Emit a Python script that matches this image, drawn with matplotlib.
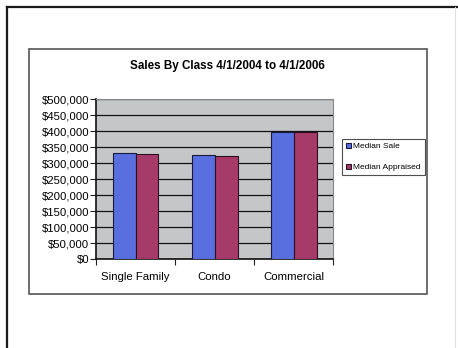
import numpy as np
import matplotlib.pyplot as plt
from matplotlib.patches import Rectangle
from matplotlib.lines import Line2D
from matplotlib.ticker import FuncFormatter, MultipleLocator

plt.rcParams['font.family'] = ['Liberation Sans', 'DejaVu Sans']

# median values by property class
categories = ['Single Family', 'Condo', 'Commercial']
median_sale = [331000, 327000, 397000]
median_appraised = [328000, 323000, 397000]
series_names = ['Median Sale', 'Median Appraised']

W, H = 458, 348
fig = plt.figure(figsize=(W / 100, H / 100), dpi=100)
fig.patch.set_facecolor('white')

def px(x0, y0, x1, y1):
    # pixel box (top-left origin) -> figure fraction rect
    return [x0 / W, 1 - y1 / H, (x1 - x0) / W, (y1 - y0) / H]

# page border and chart area frame
fig.add_artist(Line2D([7 / W, 7 / W], [0, 1 - 7 / H], color='#1a1a1a', lw=1.6,
                      transform=fig.transFigure))
fig.add_artist(Line2D([7 / W, 1], [1 - 7 / H, 1 - 7 / H], color='#1a1a1a', lw=1.6,
                      transform=fig.transFigure))
fig.add_artist(Line2D([455 / W, 455 / W], [0, 1 - 7 / H], color='#e2e2e2', lw=0.8,
                      transform=fig.transFigure))
fig.add_artist(Rectangle((29 / W, 1 - 294 / H), (427 - 29) / W, (294 - 49) / H,
                         transform=fig.transFigure, fill=False,
                         edgecolor='#555555', lw=1.2))

ax = fig.add_axes(px(96, 99.3, 333.3, 259.3))
ax.set_facecolor('#c4c6c8')

x = np.arange(len(categories))
w = 0.29
ax.bar(x - w / 2, median_sale, w, color='#5a6fdf', edgecolor='#1a1a40',
       lw=0.8, label=series_names[0], zorder=3)
ax.bar(x + w / 2, median_appraised, w, color='#a63a69', edgecolor='#2a1020',
       lw=0.8, label=series_names[1], zorder=3)

ax.set_xlim(-0.5, len(categories) - 0.5)
ax.set_ylim(0, 500000)
ax.yaxis.set_major_locator(MultipleLocator(50000))
ax.yaxis.set_major_formatter(FuncFormatter(lambda v, p: '${:,.0f}'.format(v)))
ax.grid(axis='y', color='#111111', lw=0.9, zorder=1)

# tick marks between categories, labels centred under each group
ax.set_xticks(np.arange(len(categories) + 1) - 0.5, minor=False)
ax.set_xticklabels([])
ax.set_xticks(x, minor=True)
ax.set_xticklabels(categories, minor=True, fontsize=8.2)
ax.tick_params(axis='x', which='minor', length=0, pad=9)
ax.tick_params(axis='x', which='major', length=4, direction='out', color='#222222')
ax.tick_params(axis='y', length=4, direction='out', labelsize=8.2, pad=1,
               color='#222222')

for side in ['top', 'right']:
    ax.spines[side].set_color('#888888')
    ax.spines[side].set_linewidth(0.8)
for side in ['left', 'bottom']:
    ax.spines[side].set_color('#111111')
    ax.spines[side].set_linewidth(1.2)

fig.text(227 / W, 1 - 65.5 / H, 'Sales By Class 4/1/2004 to 4/1/2006',
         ha='center', va='center', fontsize=8.4, fontweight='bold')

leg = fig.legend(loc='upper left', bbox_to_anchor=(342 / W, 1 - 139 / H),
                 fontsize=6, frameon=True, fancybox=False, edgecolor='#222222',
                 handlelength=0.6, handleheight=0.6, handletextpad=0.3,
                 borderpad=0.45, labelspacing=1.6, borderaxespad=0)
leg.get_frame().set_linewidth(0.8)

fig.savefig('out.png', dpi=100)
